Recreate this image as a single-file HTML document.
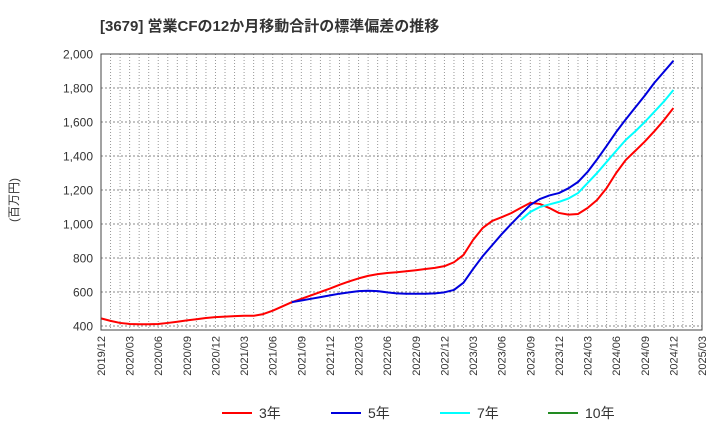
<!DOCTYPE html>
<html><head><meta charset="utf-8"><style>
body{margin:0;background:#fff;font-family:"Liberation Sans","Noto Sans CJK JP",sans-serif;}
</style></head><body>
<svg id="chart" width="720" height="440" xmlns="http://www.w3.org/2000/svg" font-family="Liberation Sans, Noto Sans CJK JP, sans-serif">
<text x="100" y="31" font-size="15" font-weight="bold" fill="#333">[3679]  営業CFの12か月移動合計の標準偏差の推移</text>
<text transform="translate(18,200) rotate(-90)" text-anchor="middle" font-size="12" fill="#333">(百万円)</text>
<g id="grid"></g>
<g id="series"></g>
<g id="axes"></g>
<g id="legend"></g>
</svg>
<script>
const yTicks=[400,600,800,1000,1200,1400,1600,1800,2000];
const xLabels=["2019/12","2020/03","2020/06","2020/09","2020/12","2021/03","2021/06","2021/09","2021/12","2022/03","2022/06","2022/09","2022/12","2023/03","2023/06","2023/09","2023/12","2024/03","2024/06","2024/09","2024/12","2025/03"];
const s3=[445,430,418,412,410,410,412,418,425,433,440,447,452,455,458,460,460,470,490,515,540,560,580,600,620,642,662,680,695,705,712,716,722,728,735,742,752,775,818,906,976,1018,1040,1064,1095,1124,1118,1094,1065,1055,1059,1094,1141,1211,1300,1376,1430,1485,1545,1610,1682];
const s5Start=20;
const s5=[540,550,560,570,580,590,598,605,607,605,598,592,590,590,590,592,598,612,655,735,810,875,940,1000,1058,1112,1147,1168,1182,1210,1247,1306,1380,1459,1541,1615,1685,1755,1830,1895,1960];
const s7Start=44;
const s7=[1023,1071,1100,1115,1130,1150,1182,1241,1300,1365,1430,1494,1545,1600,1660,1720,1788];
const seriesNames=["3年","5年","7年","10年"];
const colors=["#ff0000","#0000dd","#00ffff","#228b22"];
const L=101,R=702,T=54,B=330,months=63;
const X=m=>L+(R-L)*m/months;
const Y=v=>T+(2000-v)*(326-T)/1600;
const NS="http://www.w3.org/2000/svg";
function mk(tag,attrs,parent){const e=document.createElementNS(NS,tag);for(const k in attrs)e.setAttribute(k,attrs[k]);parent.appendChild(e);return e;}
const grid=document.getElementById('grid'),axes=document.getElementById('axes'),ser=document.getElementById('series'),leg=document.getElementById('legend');
mk('rect',{x:L,y:T,width:R-L,height:B-T,fill:'#fff'},grid);
for(let m=1;m<months;m++){const l=mk('line',{x1:X(m),x2:X(m),y1:T,y2:B,stroke:'#999','stroke-dasharray':'1,2','stroke-width':1},grid);
}
yTicks.forEach(v=>{const l=mk('line',{x1:L,x2:R,y1:Y(v),y2:Y(v),stroke:'#888','stroke-dasharray':'2,2','stroke-width':1},grid);

const t=mk('text',{x:L-8,y:Y(v)+4.5,'text-anchor':'end','font-size':12,fill:'#333'},axes);t.textContent=v.toLocaleString('en-US');
});
xLabels.forEach((s,i)=>{const x=X(i*3);const t=mk('text',{transform:`translate(${x+4},${B+6}) rotate(-90)`,'text-anchor':'end','font-size':11,fill:'#333'},axes);t.textContent=s;
});
const fr=mk('rect',{x:L,y:T,width:R-L,height:B-T,fill:'none',stroke:'#444','stroke-width':1},axes);

function line(data,start,color,name){const p=mk('polyline',{points:data.map((v,i)=>X(start+i)+','+Y(v)).join(' '),fill:'none',stroke:color,'stroke-width':2,'stroke-linejoin':'round'},ser);
}
line(s3,0,colors[0],'series-3y');line(s5,s5Start,colors[1],'series-5y');line(s7,s7Start,colors[2],'series-7y');
const lx=[222,331,440,548];
seriesNames.forEach((n,i)=>{const g=mk('g',{},leg);
mk('line',{x1:lx[i],x2:lx[i]+30,y1:413,y2:413,stroke:colors[i],'stroke-width':2},g);
const t=mk('text',{x:lx[i]+37,y:418,'font-size':14,fill:'#333'},g);t.textContent=n;});
</script>
</body></html>
